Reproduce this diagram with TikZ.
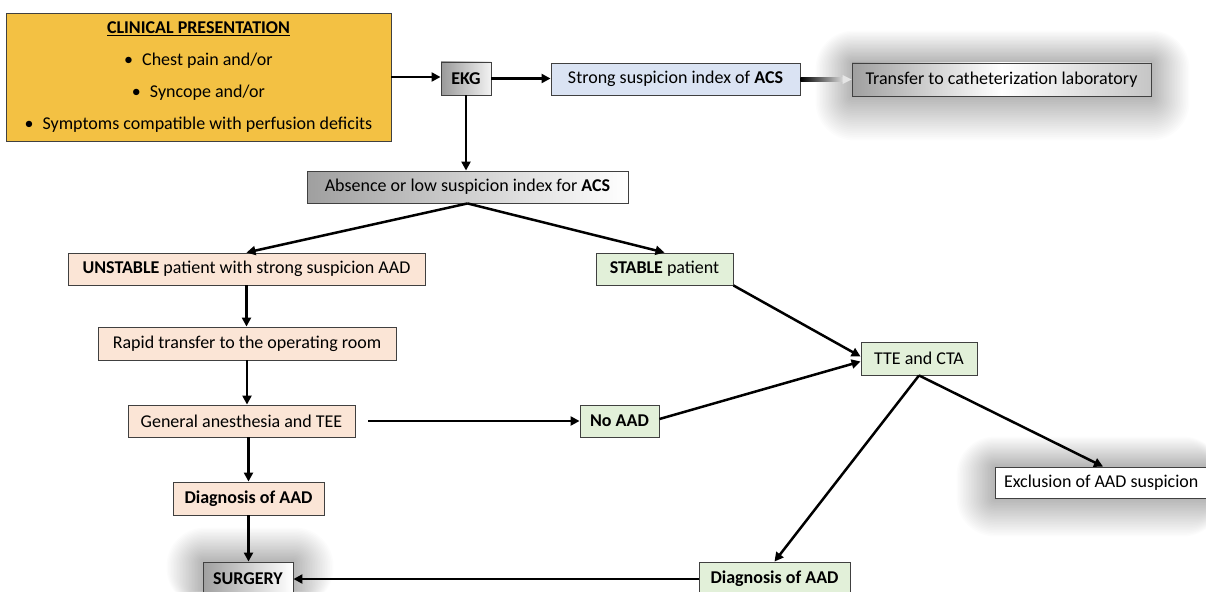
\documentclass[tikz,border=0pt]{standalone}
\usepackage{fontspec}
\setmainfont{Carlito}
\usetikzlibrary{arrows.meta,calc,backgrounds}
\definecolor{clinY}{HTML}{F3C143}
\definecolor{peach}{HTML}{FBE5D6}
\definecolor{lgreen}{HTML}{E2F0D9}
\definecolor{lblue}{HTML}{DAE3F3}
\definecolor{bord}{HTML}{404040}
\tikzset{
  box/.style={draw=bord, line width=0.9pt, inner sep=0pt, align=center,
    font=\fontsize{18}{21}\selectfont},
  pbox/.style={box, fill=peach},
  gbox/.style={box, fill=lgreen},
  grad/.style={box, left color=gray!75, right color=white},
  arr/.style={line width=2.5pt, -{Triangle[length=9pt,width=9pt]}},
}
\newcommand{\softshadow}[5]{% node, left, top, right, bottom
  \foreach \k in {1,...,24}{
    \fill[black, opacity=0.010, rounded corners=\k*1.6pt]
      ($(#1.north west)+(-#2*\k/24,-#3*\k/24)$) rectangle
      ($(#1.south east)+(#4*\k/24,#5*\k/24)$);
  }}
\begin{document}
\begin{tikzpicture}[x=1pt,y=-1pt]
\useasboundingbox (0,0) rectangle (1206,591);

\node[box, fill=clinY, minimum width=385, minimum height=128,
  font=\fontsize{18}{32}\selectfont] (clin) at (198.5,77)
  {\underline{\textbf{CLINICAL PRESENTATION}}\\ •\enspace Chest pain and/or\\ •\enspace Syncope and/or\\ •\enspace Symptoms compatible with perfusion deficits};
\node[box, minimum width=50, minimum height=33, left color=gray!80, right color=white!90!gray] (ekg) at (466,78.5) {\textbf{EKG}};
\node[box, fill=lblue, minimum width=249, minimum height=32] (strong) at (675.5,79) {Strong suspicion index of \textbf{ACS}};
\node[box, minimum width=299, minimum height=33, left color=gray!75, right color=gray!45, middle color=white] (transfer) at (1001.5,79.5) {Transfer to catheterization laboratory};
\node[grad, minimum width=321, minimum height=32] (absence) at (467.5,187) {Absence or low suspicion index for \textbf{ACS}};
\node[pbox, minimum width=357, minimum height=32] (unstable) at (246.5,269) {\textbf{UNSTABLE} patient with strong suspicion AAD};
\node[gbox, minimum width=137, minimum height=32] (stable) at (664.5,269) {\textbf{STABLE} patient};
\node[pbox, minimum width=298, minimum height=33] (rapid) at (247,343.5) {Rapid transfer to the operating room};
\node[gbox, minimum width=116, minimum height=33] (tte) at (919,358.5) {TTE and CTA};
\node[pbox, minimum width=227, minimum height=32] (general) at (241.5,421) {General anesthesia and TEE};
\node[gbox, minimum width=79, minimum height=32] (noaad) at (619.5,421) {\textbf{No AAD}};
\node[pbox, minimum width=151, minimum height=33] (diagL) at (248.5,498.5) {\textbf{Diagnosis of AAD}};
\node[box, fill=white, minimum width=216, minimum height=31, text width=198, align=flush left] (excl) at (1103,482.5) {Exclusion of AAD suspicion};
\node[grad, minimum width=90, minimum height=34] (surgery) at (248,579) {\textbf{SURGERY}};
\node[gbox, minimum width=151, minimum height=34] (diagR) at (774.5,579) {\textbf{Diagnosis of AAD}};

\begin{scope}[on background layer]
  \fill[white] (0,0) rectangle (1206,591);
  \softshadow{transfer}{36}{32}{38}{44}
  \softshadow{excl}{38}{30}{10}{38}
  \softshadow{surgery}{36}{34}{40}{10}
\end{scope}

\draw[arr] (clin.east) -- (clin.east -| ekg.west);
\draw[arr] (ekg.east) -- (ekg.east -| strong.west);
\shade[left color=black, right color=gray!25]
  ($(strong.east)+(0,-1.7)$) rectangle ($(transfer.west)+(-7,1.7)$);
\fill[gray!20] ($(transfer.west)+(-9,-4.5)$) -- (transfer.west) -- ($(transfer.west)+(-9,4.5)$) -- cycle;
\draw[arr] (ekg.south) -- (ekg.south |- absence.north);
\draw[arr] (absence.south) -- (unstable.north);
\draw[arr] (absence.south) -- (stable.north);
\draw[arr] (unstable.south) -- (unstable.south |- rapid.north);
\draw[arr] (rapid.south) -- (rapid.south |- general.north);
\draw[arr] (stable.south east) -- ($(tte.west)+(0,-2)$);
\draw[arr] ($(noaad.east)+(0,-2)$) -- ($(tte.west)+(0,3)$);
\draw[arr] ($(general.east)+(13,0)$) -- (noaad.west);
\draw[arr] (diagL.north |- general.south) -- (diagL.north);
\draw[arr] (diagL.south) -- (diagL.south |- surgery.north);
\draw[arr] (tte.south) -- (diagR.north);
\draw[arr] (tte.south) -- (excl.north);
\draw[arr] (diagR.west) -- (surgery.east);
\end{tikzpicture}
\end{document}
